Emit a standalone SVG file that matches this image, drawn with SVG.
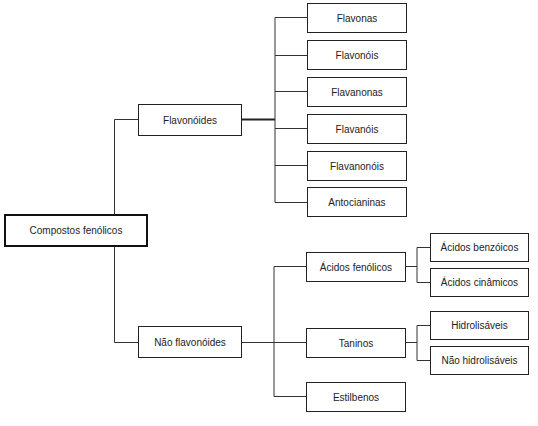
<svg xmlns="http://www.w3.org/2000/svg" width="538" height="426" viewBox="0 0 538 426">
<style>
.box{fill:#fff;stroke:#222;stroke-width:1}
.root{fill:#fff;stroke:#111;stroke-width:2}
.lbl{font-family:"Liberation Sans",Arial,sans-serif;font-size:10px;fill:#222;text-anchor:middle;dominant-baseline:central}
.ln{fill:none;stroke:#333;stroke-width:1}
.thk{fill:none;stroke:#222;stroke-width:2}
</style>
<rect width="538" height="426" fill="#fff"/>
<g id="connectors">
<path class="ln" d="M114.5,215 V119.5 H138 M114.5,246 V342.5 H138"/>
<path class="thk" d="M242,119.5 H275"/>
<path class="ln" d="M275,17.5 V202.5 M275,17.5 H307 M275,55.5 H307 M275,91.5 H307 M275,128.5 H307 M275,165.5 H307 M275,202.5 H307"/>
<path class="ln" d="M242,342.5 H274 M274,266.5 V396.5 M274,266.5 H306 M274,342.5 H306 M274,396.5 H306"/>
<path class="ln" d="M406,266.5 H417 M417,247.5 V282.5 M417,247.5 H430 M417,282.5 H430"/>
<path class="ln" d="M406,342.5 H417 M417,325.5 V360.5 M417,325.5 H430 M417,360.5 H430"/>
</g>
<g id="compostos"><rect class="root" x="5" y="215" width="142" height="31"/><text class="lbl" x="76" y="230.5">Compostos fenólicos</text></g>
<g id="flavonoides"><rect class="box" x="138.5" y="104.5" width="103" height="31"/><text class="lbl" x="190" y="120">Flavonóides</text></g>
<g id="nao-flavonoides"><rect class="box" x="138.5" y="326.5" width="103" height="31"/><text class="lbl" x="190" y="342">Não flavonóides</text></g>
<g id="flavonas"><rect class="box" x="307.5" y="3.5" width="99" height="29"/><text class="lbl" x="357" y="18">Flavonas</text></g>
<g id="flavonois"><rect class="box" x="307.5" y="40.5" width="99" height="29"/><text class="lbl" x="357" y="55">Flavonóis</text></g>
<g id="flavanonas"><rect class="box" x="307.5" y="77.5" width="99" height="29"/><text class="lbl" x="357" y="92">Flavanonas</text></g>
<g id="flavanois"><rect class="box" x="307.5" y="114.5" width="99" height="29"/><text class="lbl" x="357" y="129">Flavanóis</text></g>
<g id="flavanonois"><rect class="box" x="307.5" y="151.5" width="99" height="29"/><text class="lbl" x="357" y="166">Flavanonóis</text></g>
<g id="antocianinas"><rect class="box" x="307.5" y="187.5" width="99" height="29"/><text class="lbl" x="357" y="202">Antocianinas</text></g>
<g id="acidos-fenolicos"><rect class="box" x="306.5" y="252.5" width="99" height="29"/><text class="lbl" x="356" y="267">Ácidos fenólicos</text></g>
<g id="taninos"><rect class="box" x="306.5" y="328.5" width="99" height="29"/><text class="lbl" x="356" y="343">Taninos</text></g>
<g id="estilbenos"><rect class="box" x="306.5" y="382.5" width="99" height="29"/><text class="lbl" x="356" y="397">Estilbenos</text></g>
<g id="acidos-benzoicos"><rect class="box" x="430.5" y="233.5" width="98" height="28"/><text class="lbl" x="479.5" y="247.5">Ácidos benzóicos</text></g>
<g id="acidos-cinamicos"><rect class="box" x="430.5" y="268.5" width="98" height="28"/><text class="lbl" x="479.5" y="282.5">Ácidos cinâmicos</text></g>
<g id="hidrolisaveis"><rect class="box" x="430.5" y="311.5" width="98" height="28"/><text class="lbl" x="479.5" y="325.5">Hidrolisáveis</text></g>
<g id="nao-hidrolisaveis"><rect class="box" x="430.5" y="346.5" width="98" height="28"/><text class="lbl" x="479.5" y="360.5">Não hidrolisáveis</text></g>
</svg>
